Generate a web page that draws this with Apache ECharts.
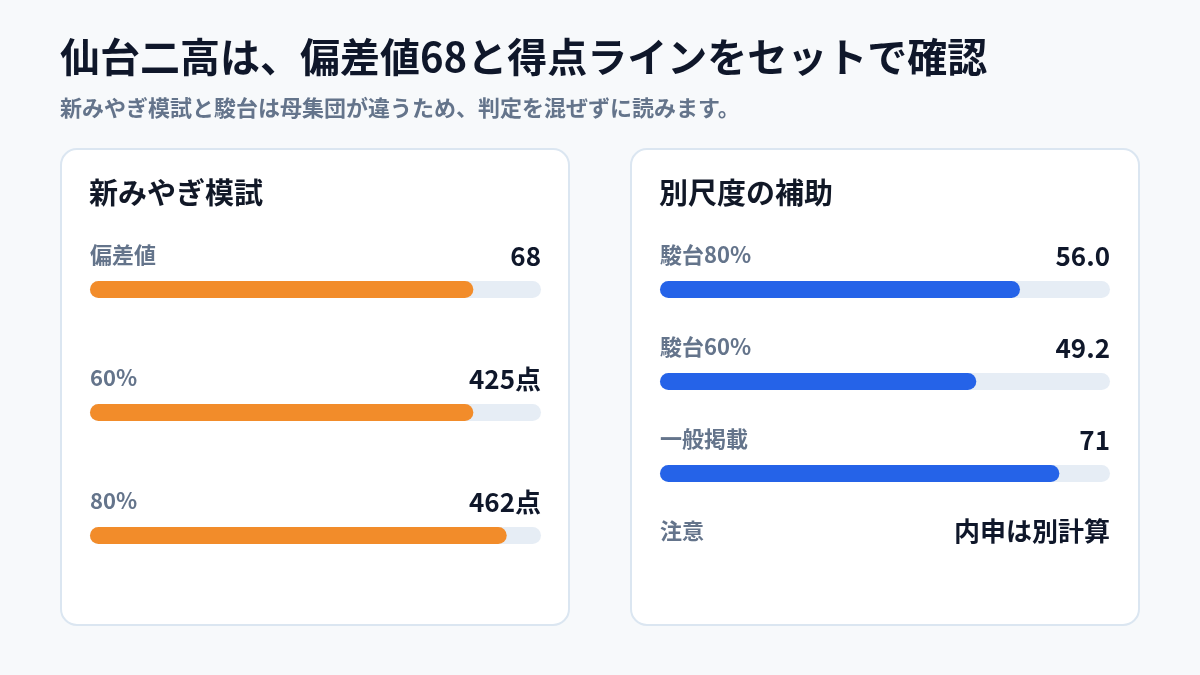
<!DOCTYPE html>
<html>
<head>
<meta charset="utf-8">
<script src="https://cdn.jsdelivr.net/npm/echarts@6/dist/echarts.min.js"></script>
<style>
  html, body { margin: 0; padding: 0; background: #f7f9fb; }
  #chart { width: 1200px; height: 675px; }
</style>
</head>
<body>
<div id="chart"></div>
<script>
// 新みやぎ模試
const leftLabels = ['偏差値', '60%', '80%']
const leftValues = [68, 425, 462]
const leftMax = [80, 500, 500]
const leftValueText = ['68', '425点', '462点']

// 別尺度の補助
const rightLabels = ['駿台80%', '駿台60%', '一般掲載']
const rightValues = [56.0, 49.2, 71]
const rightMax = [70, 70, 80]
const rightValueText = ['56.0', '49.2', '71']
const noteLabel = '注意'
const noteText = '内申は別計算'

const FONT = '"Noto Sans CJK JP", "Noto Sans", sans-serif'
const ORANGE = '#f28c2a'
const BLUE = '#2563e8'
const TRACK = '#e6edf5'

let myChart = echarts.init(document.getElementById('chart'))

let grids = []
let xAxes = []
let yAxes = []
let series = []
let graphics = []

// cards
function card(x, title) {
  graphics.push({
    type: 'rect',
    z: 0,
    shape: { x: x, y: 149, width: 508, height: 476, r: 16 },
    style: { fill: '#ffffff', stroke: '#dbe6f1', lineWidth: 2 }
  })
  graphics.push({
    type: 'text',
    z: 1,
    style: {
      text: title, x: x + 28, y: 193,
      font: 'bold 29px ' + FONT, fill: '#111827',
      align: 'left', verticalAlign: 'middle'
    }
  })
}

function text(str, x, y, font, fill, align) {
  graphics.push({
    type: 'text',
    z: 1,
    style: { text: str, x: x, y: y, font: font + ' ' + FONT, fill: fill, align: align, verticalAlign: 'middle' }
  })
}

function row(i, left, barTop, width, label, value, max, valueText, color) {
  grids.push({ left: left, top: barTop, width: width, height: 17 })
  xAxes.push({ type: 'value', gridIndex: i, min: 0, max: max, show: false })
  yAxes.push({ type: 'category', gridIndex: i, data: [label], show: false })
  series.push({
    type: 'bar',
    xAxisIndex: i,
    yAxisIndex: i,
    barWidth: 17,
    silent: true,
    showBackground: true,
    backgroundStyle: { color: TRACK, borderRadius: 8.5 },
    itemStyle: { color: color, borderRadius: 8.5 },
    data: [value]
  })
  text(label, left, barTop - 26, '600 22px', '#64748b', 'left')
  text(valueText, left + width, barTop - 25, 'bold 26px', '#0f172a', 'right')
}

// heading
text('仙台二高は、偏差値68と得点ラインをセットで確認', 60, 57, 'bold 40px', '#0f172a', 'left')
text('新みやぎ模試と駿台は母集団が違うため、判定を混ぜずに読みます。', 60, 108, '600 22px', '#64748b', 'left')

card(61, '新みやぎ模試')
card(631, '別尺度の補助')

let idx = 0
leftLabels.forEach((l, k) => {
  row(idx++, 90, 281 + k * 123, 451, l, leftValues[k], leftMax[k], leftValueText[k], ORANGE)
})
rightLabels.forEach((l, k) => {
  row(idx++, 660, 281 + k * 92, 450, l, rightValues[k], rightMax[k], rightValueText[k], BLUE)
})
text(noteLabel, 660, 531, '600 22px', '#64748b', 'left')
text(noteText, 1110, 531, 'bold 26px', '#0f172a', 'right')

myChart.setOption({
  backgroundColor: '#f7f9fb',
  animation: false,
  grid: grids,
  xAxis: xAxes,
  yAxis: yAxes,
  series: series,
  graphic: graphics
})
</script>
</body>
</html>
